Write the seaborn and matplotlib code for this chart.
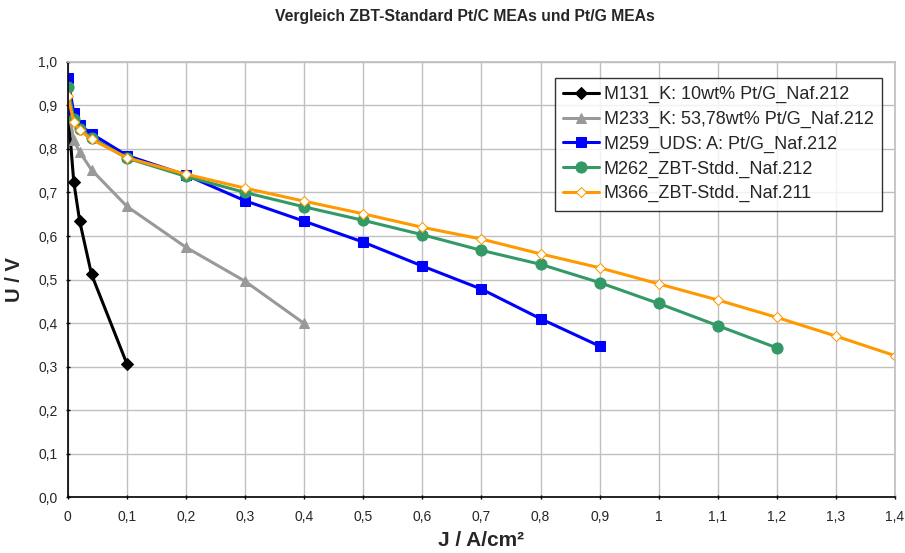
import matplotlib
matplotlib.use("Agg")
import matplotlib.pyplot as plt
import seaborn as sns
import pandas as pd
from matplotlib.ticker import FuncFormatter, MultipleLocator

sns.set_theme(style="white")
plt.rcParams['font.family'] = ['Liberation Sans', 'DejaVu Sans']

# Data
x_m131 = [0, 0.01, 0.02, 0.04, 0.1]
y_m131 = [0.892, 0.724, 0.634, 0.512, 0.306]

x_m233 = [0, 0.01, 0.02, 0.04, 0.1, 0.2, 0.3, 0.4]
y_m233 = [0.897, 0.82, 0.793, 0.752, 0.668, 0.574, 0.496, 0.399]

x_m259 = [0, 0.01, 0.02, 0.04, 0.1, 0.2, 0.3, 0.4, 0.5, 0.6, 0.7, 0.8, 0.9]
y_m259 = [0.962, 0.882, 0.855, 0.835, 0.785, 0.740, 0.681, 0.634, 0.586, 0.531, 0.478, 0.410, 0.347]

x_m262 = [0, 0.01, 0.02, 0.04, 0.1, 0.2, 0.3, 0.4, 0.5, 0.6, 0.7, 0.8, 0.9, 1.0, 1.1, 1.2]
y_m262 = [0.942, 0.868, 0.845, 0.826, 0.779, 0.737, 0.700, 0.667, 0.636, 0.603, 0.567, 0.535, 0.493, 0.445, 0.394, 0.343]

x_m366 = [0, 0.01, 0.02, 0.04, 0.1, 0.2, 0.3, 0.4, 0.5, 0.6, 0.7, 0.8, 0.9, 1.0, 1.1, 1.2, 1.3, 1.4]
y_m366 = [0.922, 0.862, 0.843, 0.822, 0.780, 0.742, 0.710, 0.680, 0.651, 0.620, 0.593, 0.559, 0.527, 0.490, 0.453, 0.413, 0.370, 0.325]

labels = ["M131_K: 10wt% Pt/G_Naf.212",
          "M233_K: 53,78wt% Pt/G_Naf.212",
          "M259_UDS: A: Pt/G_Naf.212",
          "M262_ZBT-Stdd._Naf.212",
          "M366_ZBT-Stdd._Naf.211"]

series = [(x_m131, y_m131), (x_m233, y_m233), (x_m259, y_m259), (x_m262, y_m262), (x_m366, y_m366)]
styles = [
    dict(color="black", marker="D", markersize=6, markerfacecolor="black", markeredgecolor="black"),
    dict(color="#999999", marker="^", markersize=7, markerfacecolor="#999999", markeredgecolor="#999999"),
    dict(color="#0000FF", marker="s", markersize=7, markerfacecolor="#0000FF", markeredgecolor="#0000FF"),
    dict(color="#339966", marker="o", markersize=8, markerfacecolor="#339966", markeredgecolor="#339966"),
    dict(color="#FF9900", marker="D", markersize=5.5, markerfacecolor="white", markeredgecolor="#FF9900"),
]

fig = plt.figure(figsize=(9.05, 5.53), dpi=100)
ax = fig.add_axes([0.075, 0.101, 0.914, 0.787])

for (xs, ys), lab, st in zip(series, labels, styles):
    df = pd.DataFrame({"J": xs, "U": ys})
    sns.lineplot(data=df, x="J", y="U", ax=ax, label=lab, linewidth=2.2,
                 estimator=None, sort=False, **st)

ax.set_xlim(0, 1.4)
ax.set_ylim(0, 1.0)
ax.xaxis.set_major_locator(MultipleLocator(0.1))
ax.yaxis.set_major_locator(MultipleLocator(0.1))

def xfmt(v, pos):
    s = f"{v:.1f}".replace(".", ",")
    if s == "0,0":
        return "0"
    if s == "1,0":
        return "1"
    return s

ax.xaxis.set_major_formatter(FuncFormatter(xfmt))
ax.yaxis.set_major_formatter(FuncFormatter(lambda v, p: f"{v:.1f}".replace(".", ",")))

ax.grid(True, color="#C0C0C0", linewidth=1.0)
ax.set_axisbelow(True)
for sp in ["top", "right"]:
    ax.spines[sp].set_color("#C0C0C0")
for sp in ["left", "bottom"]:
    ax.spines[sp].set_color("black")
    ax.spines[sp].set_linewidth(1.2)

ax.tick_params(axis="both", which="major", labelsize=10, length=3, direction="inout",
               bottom=True, left=True, color="black", width=1)
ax.tick_params(axis="x", pad=8)
ax.tick_params(axis="y", pad=6)

ax.set_xlabel("J / A/cm²", fontsize=15, fontweight="bold", labelpad=5)
ax.set_ylabel("U / V", fontsize=14.5, fontweight="bold", labelpad=10)
fig.text(465 / 905, 1 - 17 / 553, "Vergleich ZBT-Standard Pt/C MEAs und Pt/G MEAs",
         fontsize=11.3, fontweight="bold", ha="center", va="center")

leg = ax.legend(loc="upper left", bbox_to_anchor=(0.589, 0.963), fontsize=13, frameon=True,
                fancybox=False, edgecolor="black", handlelength=2.0, handletextpad=0.25,
                borderpad=0.45, labelspacing=0.42, borderaxespad=0)
leg.get_frame().set_linewidth(1.0)

fig.savefig("out.png", dpi=100)
